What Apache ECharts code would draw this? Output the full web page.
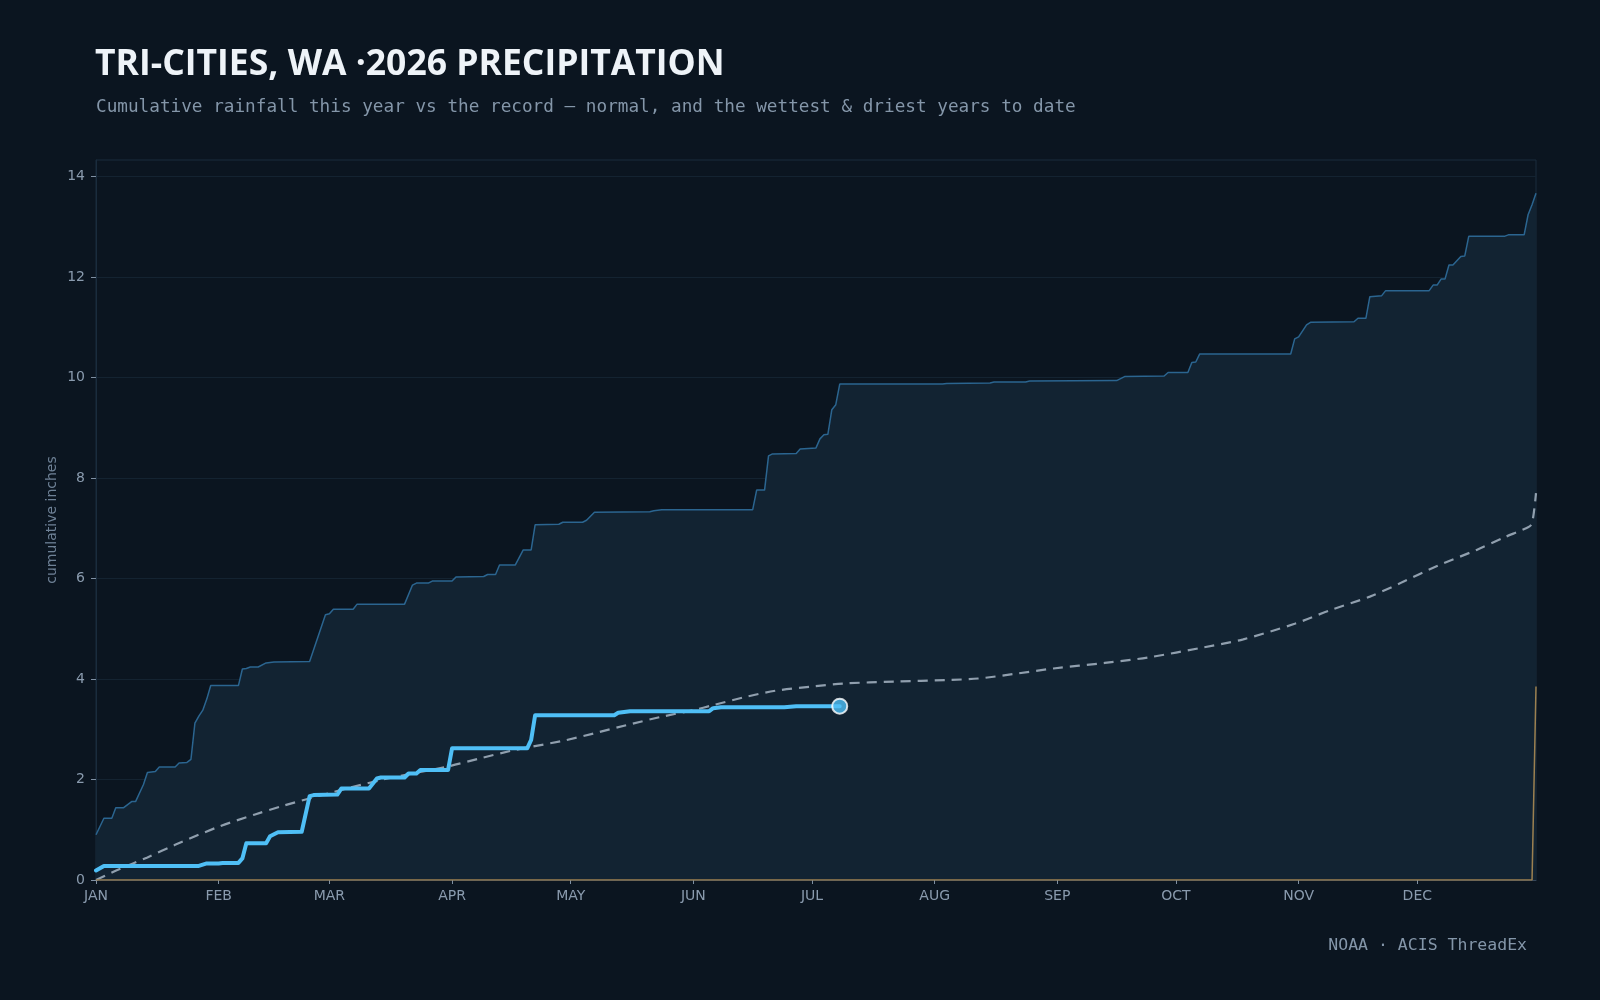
<!DOCTYPE html>
<html>
<head>
<meta charset="utf-8">
<title>Tri-Cities precipitation</title>
<script src="https://cdn.jsdelivr.net/npm/echarts/dist/echarts.min.js"></script>
<style>
  html, body { margin: 0; padding: 0; background: #0b1520; }
  #chart { width: 1600px; height: 1000px; }
</style>
</head>
<body>
<div id="chart"></div>
<script>
// day of year (0 = Jan 1) and cumulative inches
var MONTHS = ['JAN', 'FEB', 'MAR', 'APR', 'MAY', 'JUN', 'JUL', 'AUG', 'SEP', 'OCT', 'NOV', 'DEC'];
var MONTH_STARTS = [0, 31, 59, 90, 120, 151, 181, 212, 243, 273, 304, 334];
var Y_TICKS = [0, 2, 4, 6, 8, 10, 12, 14];

var wettest = [
  [0, 0.90], [2, 1.23], [4, 1.23], [5, 1.44], [7, 1.44], [9, 1.56], [10, 1.56], [12, 1.90], [13, 2.14],
  [15, 2.16], [16, 2.25], [20, 2.25], [21, 2.33], [23, 2.34], [24, 2.40], [25, 3.12], [26, 3.26],
  [27, 3.38], [28, 3.60], [29, 3.87], [36, 3.87], [37, 4.20], [38, 4.21], [39, 4.24], [41, 4.24],
  [43, 4.32], [45, 4.34], [54, 4.35], [58, 5.28], [59, 5.30], [60, 5.39], [65, 5.39], [66, 5.49],
  [78, 5.49], [80, 5.87], [81, 5.91], [84, 5.91], [85, 5.95], [90, 5.95], [91, 6.03], [98, 6.04],
  [99, 6.08], [101, 6.08], [102, 6.27], [106, 6.27], [108, 6.57], [110, 6.57], [111, 7.07], [117, 7.08],
  [118, 7.12], [123, 7.12], [124, 7.16], [126, 7.32], [140, 7.33], [141, 7.35], [143, 7.37], [166, 7.37],
  [167, 7.76], [169, 7.76], [170, 8.44], [171, 8.48], [177, 8.49], [178, 8.58], [182, 8.60], [183, 8.78],
  [184, 8.86], [185, 8.87], [186, 9.36], [187, 9.46], [188, 9.87], [214, 9.87], [215, 9.88], [226, 9.89],
  [227, 9.91], [235, 9.91], [236, 9.93], [258, 9.94], [260, 10.02], [270, 10.03], [271, 10.10], [276, 10.10],
  [277, 10.30], [278, 10.31], [279, 10.47], [302, 10.47], [303, 10.77], [304, 10.81], [306, 11.05],
  [307, 11.10], [318, 11.11], [319, 11.18], [321, 11.18], [322, 11.61], [325, 11.63], [326, 11.73],
  [337, 11.73], [338, 11.84], [339, 11.84], [340, 11.96], [341, 11.96], [342, 12.24], [343, 12.24],
  [345, 12.41], [346, 12.42], [347, 12.81], [356, 12.81], [357, 12.84], [361, 12.84], [362, 13.24],
  [363, 13.44], [364, 13.67]
];

var driest = [[0, 0], [363, 0], [364, 3.85]];

var normal = [
  [0, 0], [6, 0.22], [13, 0.45], [20, 0.70], [31, 1.06], [40, 1.30], [47, 1.47], [59, 1.73], [72, 1.99],
  [80, 2.12], [89, 2.26], [97, 2.42], [106, 2.59], [118, 2.77], [126, 2.92], [134, 3.08], [143, 3.25],
  [151, 3.38], [156, 3.48], [164, 3.64], [172, 3.77], [181, 3.85], [189, 3.91], [202, 3.95], [215, 3.98],
  [223, 4.01], [232, 4.10], [242, 4.21], [255, 4.32], [266, 4.43], [280, 4.63], [290, 4.79], [303, 5.10],
  [312, 5.37], [322, 5.64], [330, 5.92], [339, 6.25], [349, 6.57], [356, 6.82], [362, 7.02], [363, 7.10],
  [364, 7.70]
];

var thisYear = [
  [0, 0.19], [2, 0.28], [26, 0.28], [28, 0.33], [31, 0.33], [32, 0.34], [36, 0.34], [37, 0.43], [38, 0.73],
  [43, 0.73], [44, 0.87], [46, 0.95], [52, 0.96], [54, 1.67], [55, 1.69], [61, 1.70], [62, 1.82], [69, 1.82],
  [71, 2.02], [72, 2.04], [78, 2.04], [79, 2.12], [81, 2.12], [82, 2.19], [89, 2.19], [90, 2.62], [109, 2.62],
  [110, 2.79], [111, 3.28], [131, 3.28], [132, 3.33], [135, 3.36], [155, 3.36], [156, 3.42], [158, 3.44],
  [174, 3.44], [177, 3.46], [188, 3.46]
];

var myChart = echarts.init(document.getElementById('chart'), null, { renderer: 'canvas' });
var labelColor = '#8a9bae';

var option = {
  backgroundColor: '#0b1520',
  animation: false,
  title: [
    {
      text: 'TRI-CITIES, WA ·2026 PRECIPITATION',
      left: 95,
      top: 47,
      padding: 0,
      textStyle: { fontFamily: 'Open Sans', fontWeight: 'bold', fontSize: 35.5, color: '#eef3f8' }
    },
    {
      text: 'Cumulative rainfall this year vs the record — normal, and the wettest & driest years to date',
      left: 96,
      top: 98,
      padding: 0,
      textStyle: { fontFamily: 'DejaVu Sans Mono', fontWeight: 'normal', fontSize: 17.7, color: '#8496a9' }
    },
    {
      text: 'NOAA · ACIS ThreadEx',
      right: 73,
      top: 937,
      padding: 0,
      textStyle: { fontFamily: 'DejaVu Sans Mono', fontWeight: 'normal', fontSize: 16.5, color: '#8496a9' }
    }
  ],
  grid: {
    left: 96,
    right: 64,
    top: 160,
    bottom: 120,
    show: true,
    borderColor: '#1a2c3d',
    borderWidth: 1,
    backgroundColor: 'transparent'
  },
  xAxis: {
    type: 'value',
    min: 0,
    max: 364,
    splitLine: { show: false },
    axisLine: { show: true, lineStyle: { color: '#35465a' } },
    axisTick: { show: true, customValues: MONTH_STARTS, length: 4, lineStyle: { color: '#7f90a3' } },
    axisLabel: {
      customValues: MONTH_STARTS,
      formatter: function (v) { return MONTHS[MONTH_STARTS.indexOf(v)] || ''; },
      color: labelColor,
      fontFamily: 'DejaVu Sans',
      fontSize: 14,
      margin: 9
    }
  },
  yAxis: {
    type: 'value',
    min: 0,
    max: 14.33,
    interval: 2,
    name: 'cumulative inches',
    nameLocation: 'middle',
    nameGap: 37,
    nameMoveOverlap: false,
    nameTextStyle: { color: '#6e8196', fontFamily: 'DejaVu Sans', fontSize: 14 },
    axisLine: { show: true, lineStyle: { color: '#1a2c3d' } },
    axisTick: { show: true, customValues: Y_TICKS, length: 5, lineStyle: { color: '#7f90a3' } },
    axisLabel: {
      customValues: Y_TICKS,
      color: labelColor,
      fontFamily: 'DejaVu Sans',
      fontSize: 14,
      margin: 11
    },
    splitLine: { lineStyle: { color: '#142331', width: 1 } }
  },
  series: [
    {
      name: 'wettest',
      type: 'line',
      data: wettest,
      symbol: 'none',
      lineStyle: { color: '#2b6590', width: 1.5 },
      areaStyle: { color: '#122332', opacity: 1 },
      z: 2
    },
    {
      name: 'normal',
      type: 'line',
      data: normal,
      symbol: 'none',
      smooth: 0.3,
      lineStyle: { color: '#909fae', width: 2.2, type: [10, 7] },
      z: 3
    },
    {
      name: 'driest',
      type: 'line',
      data: driest,
      symbol: 'none',
      lineStyle: { color: '#9c8050', width: 1.5 },
      z: 4
    },
    {
      name: '2026',
      type: 'line',
      data: thisYear,
      symbol: 'none',
      lineStyle: { color: '#4fbff6', width: 4, cap: 'round', join: 'round' },
      z: 5
    },
    {
      name: 'today',
      type: 'scatter',
      data: [thisYear[thisYear.length - 1]],
      symbolSize: 15,
      itemStyle: { color: '#4fbff6', borderColor: '#ffffff', borderWidth: 2 },
      z: 6
    }
  ]
};

option && myChart.setOption(option);
</script>
</body>
</html>
